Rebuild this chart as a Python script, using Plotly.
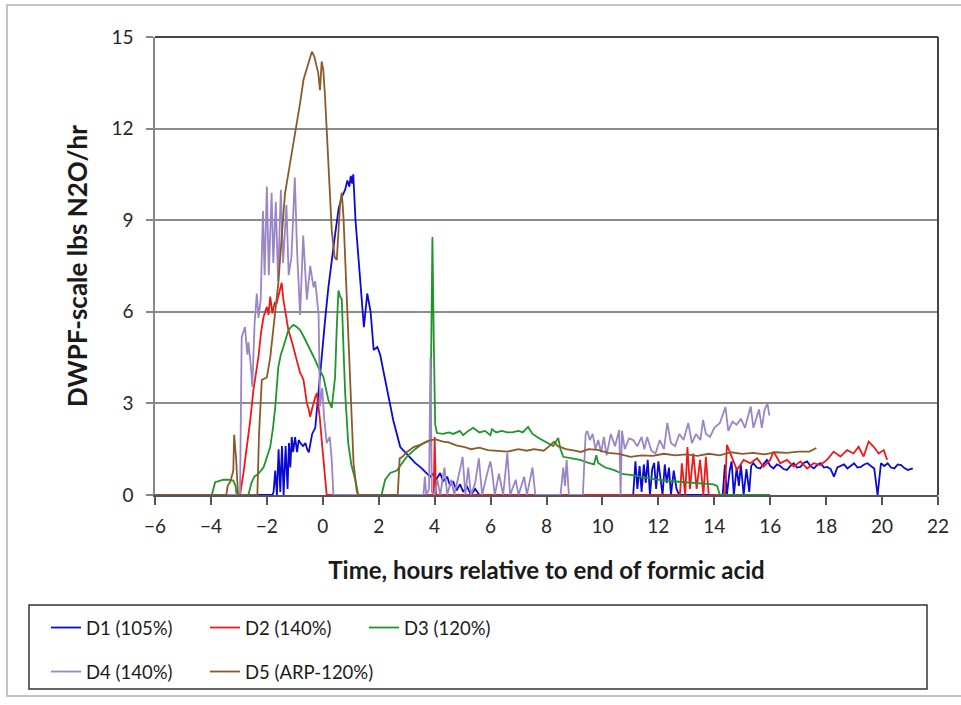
import plotly.graph_objects as go

# ---------------- data ----------------
d1_t = [-6, -1.8, -1.76, -1.7, -1.64, -1.58, -1.52, -1.46, -1.40, -1.33, -1.26, -1.21, -1.16, -1.11, -1.06,
        -0.99, -0.92, -0.86, -0.80, -0.71, -0.62, -0.56, -0.50, -0.38, -0.27, -0.15, -0.05, 0.09, 0.2, 0.33,
        0.45, 0.57, 0.7, 0.8, 0.88, 0.95, 1.0, 1.05, 1.09, 1.17, 1.28, 1.38, 1.47, 1.59, 1.71, 1.82, 1.95,
        2.05, 2.3, 2.52, 2.77, 2.95, 3.12, 3.3, 3.48, 3.66, 3.84, 3.95, 4.05, 4.2, 4.3, 4.45, 4.55, 4.66,
        4.78, 4.91, 5.02, 5.15, 5.3, 5.45, 5.6, 11.1,
        11.18, 11.25, 11.33, 11.40, 11.48, 11.55, 11.62, 11.70, 11.78, 11.85, 11.92, 12.0, 12.08, 12.15,
        12.23, 12.3, 12.38, 12.45, 12.55, 12.65, 12.75, 14.3, 14.38, 14.45, 14.55, 14.62, 14.7, 14.8, 14.88,
        14.95, 15.05, 15.15, 15.25, 15.32, 15.4, 15.52, 15.64, 15.76, 15.88, 16.0, 16.12, 16.24, 16.36,
        16.48, 16.6, 16.72, 16.84, 16.96, 17.08, 17.2, 17.32, 17.44, 17.56, 17.68, 17.8, 17.92, 18.04,
        18.16, 18.28, 18.4, 18.52, 18.64, 18.76, 18.88, 19.0, 19.12, 19.24, 19.36, 19.48, 19.6, 19.72,
        19.84, 19.96, 20.08, 20.2, 20.32, 20.44, 20.56, 20.68, 20.8, 20.92, 21.1]
d1_v = [0, 0, 0.1, 0.8, 0.0, 1.5, 0.1, 1.6, 0.0, 1.6, 0.2, 1.7, 0.9, 1.9, 1.4,
        1.9, 1.4, 1.8, 1.7, 1.6, 1.7, 1.5, 1.4, 2.0, 2.2, 3.4, 4.6, 5.8, 6.8, 7.8,
        8.6, 9.4, 9.8, 10.0, 10.3, 10.1, 10.45, 10.2, 10.5, 9.0, 7.6, 6.3, 5.5, 6.6, 6.0, 4.75, 4.85,
        4.6, 3.4, 2.45, 1.57, 1.4, 1.25, 1.05, 0.92, 0.75, 0.6, 0.7, 0.5, 0.72, 0.45, 0.6, 0.3, 0.45,
        0.15, 0.35, 0.1, 0.3, 0.0, 0.2, 0.0, 0.0,
        1.1, 0.2, 0.95, 0.1, 1.0, 0.4, 1.15, 0.0, 0.85, 1.05, 0.2, 1.1, 0.6, 0.0,
        1.0, 0.4, 0.9, 0.0, 0.8, 0.2, 0.0, 0.0, 1.0, 0.0, 0.8, 1.1, 0.0, 0.9, 0.3,
        1.0, 0.0, 0.85, 0.1, 0.95, 1.04, 0.9, 0.87, 1.0, 1.15, 0.95, 0.87, 1.0, 0.95,
        0.85, 0.82, 0.95, 1.04, 0.9, 0.92, 1.05, 1.1, 0.95, 0.87, 0.98, 1.04, 0.9, 0.92,
        0.85, 0.6, 0.9, 0.95, 1.0, 0.87, 0.95, 1.04, 0.9, 0.92, 1.0, 1.04, 0.95, 0.87,
        0.0, 1.04, 0.95, 1.04, 0.9, 0.87, 1.0, 0.98, 0.88, 0.82, 0.87]

d2_t = [-6, -2.96, -2.84, -2.72, -2.6, -2.48, -2.39, -2.30, -2.21, -2.12, -2.06, -2.0, -1.94, -1.88, -1.8,
        -1.72, -1.65, -1.56, -1.47, -1.41, -1.35, -1.28, -1.23, -1.1, -0.99, -0.9, -0.81, -0.75, -0.69,
        -0.63, -0.57, -0.5, -0.45, -0.39, -0.34, -0.27, -0.21, -0.15, -0.1, -0.04, 0.02, 0.08, 0.14,
        3.97, 4.0, 4.05, 12.75, 12.78, 12.84, 12.96, 13.04, 13.13, 13.25, 13.37, 13.49, 13.61, 13.7, 13.8,
        14.38, 14.45, 14.63, 14.81, 15.05, 15.29, 15.53, 15.76, 16.0, 16.12, 16.36, 16.6, 16.84, 17.08,
        17.32, 17.55, 17.79, 18.03, 18.27, 18.51, 18.75, 18.98, 19.16, 19.34, 19.52, 19.7, 19.88, 20.06,
        20.18]
d2_v = [0, 0, 0.7, 1.47, 2.4, 3.44, 4.0, 4.52, 5.3, 5.83, 6.0, 6.16, 5.9, 6.5, 5.95,
        6.3, 6.28, 6.6, 6.95, 6.4, 6.06, 5.7, 5.4, 5.0, 4.65, 4.3, 4.0, 3.9, 3.77,
        3.4, 3.0, 2.8, 2.56, 2.8, 3.0, 3.2, 3.34, 2.9, 2.46, 1.8, 1.15, 0.5, 0,
        0, 1.9, 0, 0, 0.1, 1.04, 0, 1.57, 0.2, 1.36, 0.2, 1.15, 0, 1.25, 0,
        0, 1.64, 1.26, 0.82, 1.15, 1.04, 1.2, 0.93, 1.15, 1.42, 1.04, 1.15, 0.93, 1.1,
        0.87, 1.04, 0.98, 1.15, 1.42, 1.26, 1.47, 1.36, 1.58, 1.26, 1.75, 1.58, 1.36, 1.47,
        1.15]

d3_t = [-6, -3.97, -3.85, -3.7, -3.55, -3.4, -3.2, -3.12, -3.08, -2.66, -2.55, -2.45, -2.3, -2.12, -2.0,
        -1.88, -1.78, -1.7, -1.59, -1.5, -1.41, -1.32, -1.23, -1.14, -1.05, -0.93, -0.81, -0.69, -0.57,
        -0.42, -0.27, -0.12, 0.02, 0.1, 0.2, 0.32, 0.44, 0.5, 0.56, 0.62, 0.68, 0.74, 0.8, 0.91, 1.02,
        1.16, 1.27, 2.1, 2.23, 2.41, 2.65, 3.0, 3.3, 3.6, 3.84, 3.88, 3.92, 3.97, 4.02, 4.08, 4.3, 4.5,
        4.67, 4.9, 5.02, 5.2, 5.38, 5.6, 5.8, 5.99, 6.05, 6.2, 6.4, 6.6, 6.8, 7.0, 7.15, 7.34, 7.5, 7.75,
        8.02, 8.24, 8.42, 8.5, 8.6, 8.9, 9.2, 9.5, 9.7, 9.78, 9.85, 10.1, 10.4, 10.75, 11.0, 11.5, 11.96,
        12.5, 13.15, 13.6, 13.97, 14.1, 14.2, 16.0]
d3_v = [0, 0, 0.42, 0.47, 0.5, 0.5, 0.47, 0.3, 0, 0, 0.4, 0.6, 0.7, 0.9, 1.2,
        1.57, 2.2, 2.88, 4.19, 4.6, 4.85, 5.15, 5.4, 5.5, 5.57, 5.5, 5.4, 5.2, 5.0,
        4.7, 4.42, 4.1, 3.87, 3.5, 3.11, 2.85, 3.87, 5.5, 6.7, 6.5, 6.4, 4.8, 3.34, 1.7, 1.0,
        0.5, 0, 0, 0.5, 0.72, 0.8, 1.25, 1.5, 1.7, 1.8, 5.0, 8.45, 5.0, 2.3, 2.03, 2.0, 2.05,
        2.0, 2.1, 1.96, 2.1, 2.2, 2.05, 2.1, 1.96, 2.15, 2.05, 2.1, 2.05, 2.06, 2.1, 2.05, 2.23, 2.0, 1.85,
        1.7, 1.6, 1.87, 1.5, 1.25, 1.2, 1.15, 1.05, 1.0, 1.3, 1.05, 0.9, 0.82, 0.68, 0.66, 0.58, 0.5,
        0.45, 0.4, 0.38, 0.35, 0.3, 0, 0]

d4_t = [-6, -2.96, -2.9, -2.78, -2.70, -2.66, -2.58, -2.52, -2.44, -2.36, -2.30, -2.22, -2.14, -2.08, -2.0,
        -1.93, -1.83, -1.77, -1.68, -1.6, -1.5, -1.42, -1.30, -1.22, -1.12, -1.0, -0.92, -0.81, -0.70,
        -0.57, -0.45, -0.33, -0.27, -0.21, -0.15, -0.1, -0.02, 0.05, 0.14, 0.25, 0.32, 0.38,
        3.6, 3.65, 3.7, 3.8, 3.85, 3.9, 4.0, 4.1, 4.2, 4.35, 4.45, 4.6, 4.7, 4.9, 5.0, 5.1, 5.2, 5.3,
        5.45, 5.58, 5.7, 5.85, 5.99, 6.05, 6.15, 6.3, 6.45, 6.6, 6.7, 6.9, 7.0, 7.2, 7.3, 7.5, 7.6,
        8.5, 8.6, 8.66, 8.72, 8.8, 9.3, 9.4, 9.46, 9.55, 9.65, 9.75, 9.85, 9.95, 10.05, 10.15, 10.3,
        10.45, 10.6, 10.65, 10.7, 10.8, 10.95, 11.1, 11.25, 11.4, 11.5, 11.6, 11.75, 11.9, 12.05, 12.2,
        12.32, 12.45, 12.6, 12.75, 12.9, 13.07, 13.2, 13.35, 13.5, 13.6, 13.7, 13.85, 14.0, 14.2, 14.4,
        14.5, 14.65, 14.8, 14.95, 15.1, 15.3, 15.4, 15.5, 15.6, 15.7, 15.8, 15.9, 15.97]
d4_v = [0, 0, 5.17, 5.5, 4.6, 5.0, 4.3, 3.55, 5.6, 6.6, 5.8, 6.4, 9.3, 7.2, 10.1,
        7.2, 9.9, 7.6, 9.6, 7.0, 10.0, 7.6, 9.5, 7.2, 7.8, 10.4, 8.0, 5.9, 8.5,
        6.4, 7.5, 6.8, 7.0, 6.4, 5.9, 2.9, 3.5, 2.5, 1.7, 1.9, 1.15, 0,
        0, 0.6, 0, 0.2, 4.5, 0.1, 0, 0.5, 0, 0.9, 0, 0.5, 0, 0.8, 1.25, 0, 0.9, 0,
        0.4, 1.2, 0, 0.6, 1.1, 0.8, 0, 0.7, 0, 1.38, 0, 0.5, 0, 0.6, 0, 0.9, 0,
        0, 0.9, 0.3, 1.15, 0, 0, 2.0, 2.1, 1.8, 2.0, 1.5, 1.8, 1.4, 1.9, 1.3, 2.0,
        1.6, 2.13, 0, 2.1, 1.5, 1.85, 1.8, 1.6, 1.9, 1.5, 1.9, 1.45, 1.36, 1.8, 1.5,
        2.36, 1.7, 1.6, 2.0, 1.8, 2.36, 1.7, 2.0, 1.8, 2.46, 2.0, 1.9, 2.2, 2.36, 2.88,
        2.1, 2.4, 2.3, 2.5, 2.2, 2.9, 2.2, 2.5, 2.8, 2.2, 2.8, 3.0, 2.6]

d5_t = [-6, -3.45, -3.4, -3.3, -3.2, -3.17, -3.1, -3.03, -2.34, -2.28, -2.18, -2.0, -1.88, -1.77, -1.68,
        -1.59, -1.47, -1.35, -1.17, -1.05, -0.93, -0.8, -0.69, -0.57, -0.47, -0.39, -0.3, -0.22, -0.16,
        -0.1, -0.04, 0.02, 0.08, 0.2, 0.32, 0.42, 0.5, 0.62, 0.68, 0.74, 0.86, 0.98, 1.1, 1.22, 1.28,
        2.68, 2.75, 2.85, 3.0, 3.25, 3.5, 3.86, 4.04, 4.3, 4.5, 4.8, 5.04, 5.3, 5.6, 5.9, 6.26, 6.6, 7.0,
        7.3, 7.55, 7.9, 8.1, 8.27, 8.4, 8.7, 9.0, 9.23, 9.5, 9.84, 10.2, 10.6, 11.0, 11.4, 11.8, 12.2,
        12.6, 13.0, 13.4, 13.8, 14.2, 14.6, 15.0, 15.4, 15.8, 16.2, 16.6, 17.0, 17.4, 17.65]
d5_v = [0, 0, 0.3, 0.45, 0.8, 1.97, 1.2, 0, 0, 2.0, 3.77, 3.85, 4.5, 5.4, 6.2,
        6.93, 8.45, 9.88, 10.87, 11.5, 12.18, 12.9, 13.6, 14.0, 14.3, 14.52, 14.35, 14.0, 13.8,
        13.26, 14.2, 13.9, 13.05, 10.87, 8.68, 7.8, 7.7, 9.55, 9.9, 9.1, 6.5, 3.77, 1.04, 0.1, 0,
        0, 1.2, 1.25, 1.4, 1.57, 1.65, 1.8, 1.82, 1.75, 1.72, 1.62, 1.58, 1.5, 1.55, 1.47, 1.44, 1.42, 1.5,
        1.45, 1.5, 1.45, 1.6, 1.74, 1.6, 1.5, 1.45, 1.41, 1.5, 1.48, 1.38, 1.35, 1.25, 1.3, 1.28, 1.35,
        1.3, 1.33, 1.28, 1.35, 1.3, 1.4, 1.35, 1.38, 1.33, 1.4, 1.38, 1.42, 1.42, 1.54]

series_names = ["D1 (105%)", "D2 (140%)", "D3 (120%)", "D4 (140%)", "D5 (ARP-120%)"]
series_colors = ["#0a0ad2", "#f21818", "#1e962a", "#9a86c6", "#8b5a2b"]
x_ticks = list(range(-6, 23, 2))
y_ticks = [0, 3, 6, 9, 12, 15]

# ---------------- geometry helpers (pixel -> paper) ----------------
W, H = 961, 705
L, R, T, B = 155, 938, 37, 495
def px(x):
    return (x - L) / (R - L)
def py(y):
    return (B - y) / (B - T)

FONT = "Lato, Carlito, Calibri, sans-serif"

fig = go.Figure()
series = [(d1_t, d1_v), (d2_t, d2_v), (d3_t, d3_v), (d4_t, d4_v), (d5_t, d5_v)]
legends = ["legend", "legend", "legend", "legend2", "legend2"]
for i, ((tx, vy), name, col, lg) in enumerate(zip(series, series_names, series_colors, legends)):
    fig.add_trace(go.Scatter(x=tx, y=vy, mode="lines", name=name, legend=lg,
                             legendwidth=170 if i == 4 else 114,
                             line=dict(color=col, width=1.8), cliponaxis=False))

fig.update_layout(
    width=W, height=H,
    margin=dict(l=L, r=W - R, t=T, b=H - B, autoexpand=False),
    paper_bgcolor="white", plot_bgcolor="white",
    font=dict(family=FONT, size=19, color="#262626"),
    xaxis=dict(range=[-6, 22], tickvals=x_ticks, ticks="outside", ticklen=8, tickcolor="#555",
               tickwidth=1.5, showgrid=False, showline=True, linecolor="#555", linewidth=1.5,
               zeroline=False, ticklabelstandoff=5, tickfont=dict(size=19),
               title=dict(text="<b>Time, hours relative to end of formic acid</b>",
                          font=dict(size=24, color="#1a1a1a"), standoff=27)),
    yaxis=dict(range=[0, 15], tickvals=y_ticks, ticks="outside", ticklen=7, tickcolor="#888",
               tickwidth=1.5, showgrid=True, gridcolor="#8c8c8c", gridwidth=1.5,
               showline=True, linecolor="#888", linewidth=1.5, zeroline=False,
               ticklabelstandoff=9, tickfont=dict(size=19),
               title=dict(text="<b>DWPF-scale lbs N2O/hr</b>",
                          font=dict(size=26, color="#1a1a1a"), standoff=16)),
    legend=dict(orientation="h", x=px(46), xanchor="left", y=py(628), yanchor="middle",
                entrywidth=114, entrywidthmode="pixels", bgcolor="rgba(0,0,0,0)",
                font=dict(size=18.5, color="#1a1a1a"), itemwidth=30, tracegroupgap=0),
    legend2=dict(orientation="h", x=px(46), xanchor="left", y=py(672), yanchor="middle",
                 entrywidth=114, entrywidthmode="pixels", bgcolor="rgba(0,0,0,0)",
                 font=dict(size=18.5, color="#1a1a1a"), itemwidth=30, tracegroupgap=0),
    shapes=[
        # outer chart frame
        dict(type="rect", xref="paper", yref="paper", x0=px(7), x1=px(975), y0=py(5), y1=py(696),
             line=dict(color="#c4c4c4", width=2), layer="below"),
        # plot area top and right border
        dict(type="line", xref="paper", yref="paper", x0=0, x1=1, y0=1, y1=1,
             line=dict(color="#444", width=2)),
        dict(type="line", xref="paper", yref="paper", x0=1, x1=1, y0=0, y1=1,
             line=dict(color="#444", width=2)),
        # legend box
        dict(type="rect", xref="paper", yref="paper", x0=px(29), x1=px(927), y0=py(605), y1=py(689),
             line=dict(color="#333", width=1.5)),
    ],
)

fig.write_html("out.html")
